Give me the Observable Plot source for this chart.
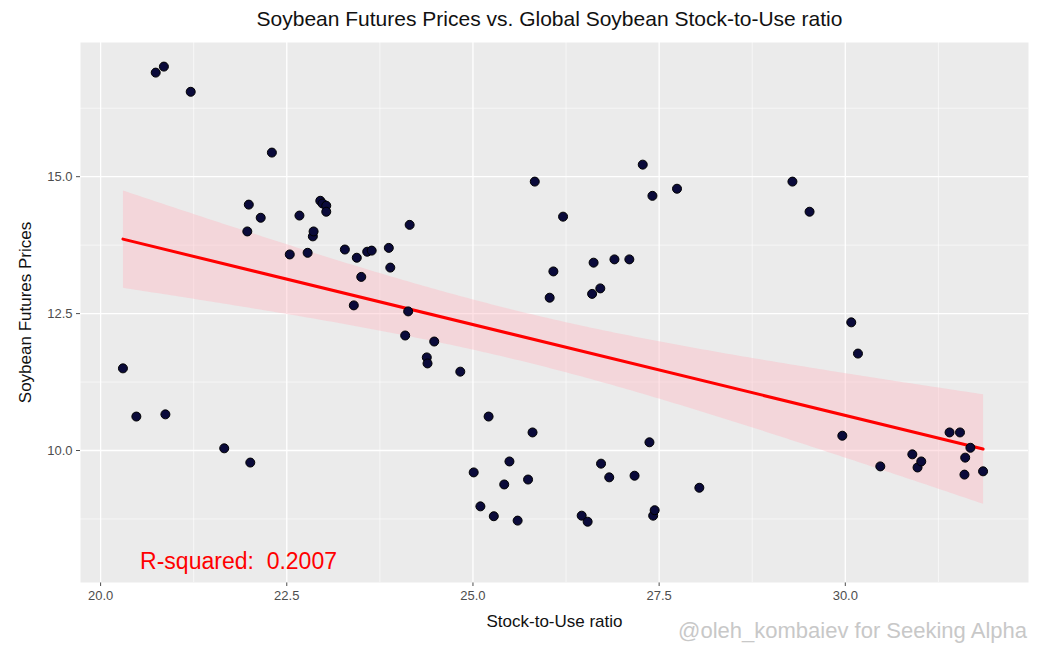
<!DOCTYPE html>
<html><head><meta charset="utf-8">
<script src="https://cdn.jsdelivr.net/npm/d3@7"></script>
<script src="https://cdn.jsdelivr.net/npm/@observablehq/plot@0.6"></script>
<style>
body{margin:0;background:#fff;font-family:"Liberation Sans",Arial,sans-serif;}
#wrap{position:relative;width:1039px;height:654px;}
#title{height:35px;line-height:38px;text-align:center;font-size:21px;color:#111;padding-left:60px;box-sizing:border-box}
#wm{position:absolute;right:12px;bottom:10px;font-size:22px;color:#c8c8c8}
</style></head><body>
<div id="wrap"><div id="title">Soybean Futures Prices vs. Global Soybean Stock-to-Use ratio</div><div id="chart"></div><div id="wm">@oleh_kombaiev for Seeking Alpha</div></div>
<script>
const stockToUse = [20.74,20.85,21.21,22.30,20.30,20.48,20.87,21.66,22.01,21.99,21.97,22.15,22.54,22.67,22.78,22.85,22.86,22.95,22.98,23.03,23.03,23.28,23.44,23.58,23.64,23.87,23.89,23.50,23.40,24.15,24.13,24.09,24.48,24.38,24.39,24.83,25.21,25.01,25.10,25.28,25.42,25.49,25.60,25.74,25.80,25.83,26.03,26.08,26.21,26.46,26.54,26.60,26.62,26.71,26.72,26.83,26.90,27.10,27.17,27.28,27.37,27.41,27.42,27.44,27.74,28.04,29.29,29.52,29.96,30.08,30.17,30.47,30.90,30.97,31.02,31.40,31.54,31.60,31.61,31.68,31.85];
const prices = [16.90,17.01,16.55,15.44,11.50,10.62,10.66,10.04,9.78,14.49,14.00,14.25,13.58,14.29,13.61,13.91,14.00,14.56,14.51,14.47,14.36,13.67,13.52,13.63,13.65,13.70,13.34,13.17,12.65,14.12,12.54,12.10,11.99,11.70,11.59,11.44,10.62,9.60,8.98,8.80,9.38,9.80,8.72,9.47,10.33,14.91,12.79,13.27,14.27,8.81,8.70,12.86,13.43,12.96,9.76,9.51,13.49,13.49,9.54,15.22,10.15,14.65,8.81,8.91,14.78,9.32,14.91,14.36,10.27,12.34,11.77,9.71,9.93,9.69,9.80,10.33,10.33,9.56,9.87,10.05,9.62];
const xTicks = [20,22.5,25,27.5,30];
const xMinor = [21.25,23.75,26.25,28.75,31.25];
const yTicks = [10,12.5,15];
const yMinor = [8.75,11.25,13.75,16.25];
const data = stockToUse.map((x,i)=>({x, y: prices[i]}));
const W=1039,H=619,ML=80,MR=11,MT=7,MB=72;
const chart = Plot.plot({
  width:W,height:H,marginLeft:ML,marginRight:MR,marginTop:MT,marginBottom:MB,
  style:{fontFamily:"Liberation Sans, Arial, sans-serif",fontSize:"13px",color:"#4d4d4d"},
  x:{domain:[19.73,32.46],ticks:xTicks,tickFormat:d3.format(".1f"),label:"Stock-to-Use ratio",labelArrow:"none",labelAnchor:"center",labelOffset:44,tickSize:4,tickPadding:4},
  y:{domain:[7.59,17.45],ticks:yTicks,tickFormat:d3.format(".1f"),label:"Soybean Futures Prices",labelArrow:"none",labelAnchor:"center",labelOffset:62,tickSize:4,tickPadding:4},
  marks:[
    Plot.frame({fill:"#ebebeb"}),
    Plot.gridX(xMinor,{stroke:"#fff",strokeOpacity:1,strokeWidth:0.6}),
    Plot.gridY(yMinor,{stroke:"#fff",strokeOpacity:1,strokeWidth:0.6}),
    Plot.gridX(xTicks,{stroke:"#fff",strokeOpacity:1,strokeWidth:1.3}),
    Plot.gridY(yTicks,{stroke:"#fff",strokeOpacity:1,strokeWidth:1.3}),
    Plot.linearRegressionY(data,{x:"x",y:"y",stroke:"red",strokeWidth:3,fill:"#ffb6c1",fillOpacity:0.4,ci:0.95}),
    Plot.dot(data,{x:"x",y:"y",r:4.5,fill:"#0a0a3a",stroke:"#000",strokeWidth:1}),
    Plot.text(["R-squared:  0.2007"],{x:20.53,y:7.97,text:d=>d,fill:"red",fontSize:23,textAnchor:"start"})
  ]
});
chart.querySelectorAll('[aria-label="x-axis label"] text, [aria-label="y-axis label"] text').forEach(t=>{t.style.fontSize="17px";t.style.fill="#111";});
document.getElementById("chart").appendChild(chart);
</script>
</body></html>
